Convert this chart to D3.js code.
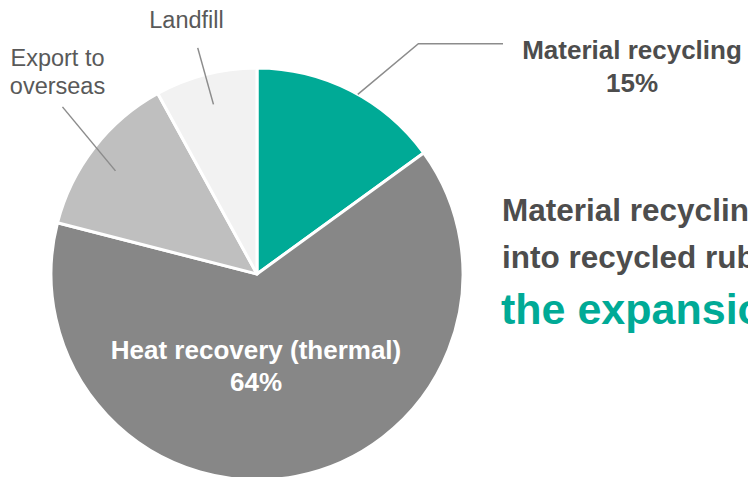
<!DOCTYPE html>
<html>
<head>
<meta charset="utf-8">
<script src="https://cdn.jsdelivr.net/npm/d3@7"></script>
<style>
  html, body { margin: 0; padding: 0; background: #fff; overflow: hidden; }
  svg { display: block; font-family: "Liberation Sans", Arial, sans-serif; }
</style>
</head>
<body>
<svg id="chart" width="748" height="477"></svg>
<script>
// ---- data ----
const categories = ["Material recycling", "Heat recovery (thermal)", "Export to overseas", "Landfill"];
const values = [15, 64, 13, 8];
const colors = ["#00AA96", "#878787", "#BFBFBF", "#F2F2F2"];
const messageLines = ["Material recycling", "into recycled rubber", "the expansion"];

// ---- layout ----
const cx = 257, cy = 274, R = 206;
const svg = d3.select("#chart");

const pie = d3.pie().sort(null).value(d => d.value).startAngle(0).endAngle(2 * Math.PI);
const arcs = pie(categories.map((c, i) => ({ name: c, value: values[i], color: colors[i] })));
const arc = d3.arc().innerRadius(0).outerRadius(R);

const g = svg.append("g").attr("transform", `translate(${cx},${cy})`);
g.selectAll("path.slice")
  .data(arcs)
  .join("path")
  .attr("class", "slice")
  .attr("d", arc)
  .attr("fill", d => d.data.color)
  .attr("stroke", "#fff")
  .attr("stroke-width", 3)
  .attr("stroke-linejoin", "round");

// polar helper (angle clockwise from 12 o'clock)
const pt = (a, r) => [Math.sin(a) * r, -Math.cos(a) * r];
const mid = d => (d.startAngle + d.endAngle) / 2;
const lineColor = "#8C8C8C";

// Material recycling leader (elbow)
{
  const d = arcs[0];
  const p0 = pt(mid(d) + 0.04, R);
  const p1 = pt(mid(d) + 0.14, R * 1.365);
  const p2 = [503 - cx, p1[1]];
  g.append("polyline")
    .attr("points", [p0, p1, p2].map(p => p.join(",")).join(" "))
    .attr("fill", "none").attr("stroke", lineColor).attr("stroke-width", 1.5);
  const t = svg.append("text")
    .attr("text-anchor", "middle")
    .attr("font-size", 26).attr("font-weight", "bold").attr("fill", "#4D4D4D");
  t.append("tspan").attr("x", 632).attr("y", 59).text(d.data.name);
  t.append("tspan").attr("x", 632).attr("y", 92).text(d.data.value + "%");
}

// Heat recovery inside label
{
  const d = arcs[1];
  const t = svg.append("text")
    .attr("text-anchor", "middle")
    .attr("font-size", 26).attr("font-weight", "bold").attr("fill", "#fff");
  t.append("tspan").attr("x", 256).attr("y", 359).text(d.data.name);
  t.append("tspan").attr("x", 256).attr("y", 391).text(d.data.value + "%");
}

// Export leader
{
  const d = arcs[2];
  const p0 = pt(mid(d) - 0.03, R * 0.85);
  const p1 = pt(mid(d) + 0.05, R * 1.245);
  g.append("line")
    .attr("x1", p0[0]).attr("y1", p0[1]).attr("x2", p1[0]).attr("y2", p1[1])
    .attr("stroke", lineColor).attr("stroke-width", 1.5);
  const words = ["Export to", "overseas"];
  const t = svg.append("text")
    .attr("text-anchor", "middle")
    .attr("font-size", 23.5).attr("fill", "#595959");
  t.append("tspan").attr("x", 57.5).attr("y", 66).text(words[0]);
  t.append("tspan").attr("x", 57.5).attr("y", 94).text(words[1]);
}

// Landfill leader
{
  const d = arcs[3];
  const p0 = pt(mid(d), R * 0.85);
  const p1 = pt(mid(d) - 0.005, R * 1.135);
  g.append("line")
    .attr("x1", p0[0]).attr("y1", p0[1]).attr("x2", p1[0]).attr("y2", p1[1])
    .attr("stroke", lineColor).attr("stroke-width", 1.5);
  svg.append("text")
    .attr("x", 186.5).attr("y", 28)
    .attr("text-anchor", "middle")
    .attr("font-size", 23.5).attr("fill", "#595959")
    .text(d.data.name);
}

// Right-hand message (runs past the right frame edge, as in the reference)
svg.append("text").attr("x", 502).attr("y", 221)
  .attr("font-size", 31.5).attr("font-weight", "bold").attr("fill", "#4D4D4D")
  .text(messageLines[0]);
svg.append("text").attr("x", 502).attr("y", 268)
  .attr("font-size", 31.5).attr("font-weight", "bold").attr("fill", "#4D4D4D")
  .text(messageLines[1]);
svg.append("text").attr("x", 501).attr("y", 324)
  .attr("font-size", 43).attr("font-weight", "bold").attr("fill", "#00AA96")
  .text(messageLines[2]);
</script>
</body>
</html>
